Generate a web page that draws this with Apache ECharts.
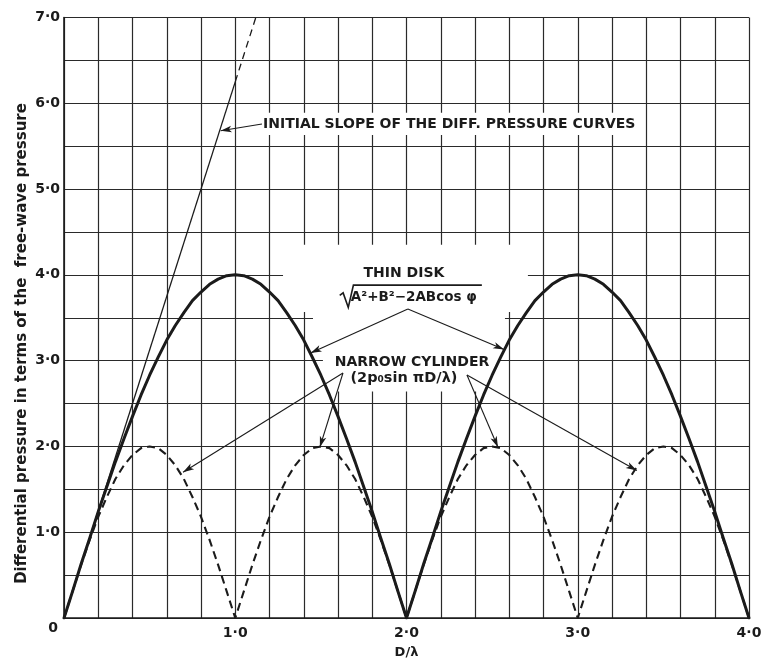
<!DOCTYPE html>
<html>
<head>
<meta charset="utf-8">
<style>
  html, body { margin: 0; padding: 0; background: #ffffff; }
  #chart { width: 767px; height: 659px; }
</style>
<script src="https://cdn.jsdelivr.net/npm/echarts@6/dist/echarts.min.js"></script>
</head>
<body>
<div id="chart"></div>
<script>
// D/lambda sample positions shared by both pressure curves
const dOverLambda = [
  0, 0.05, 0.1, 0.15, 0.2, 0.25, 0.3, 0.35, 0.4, 0.45, 0.5, 0.55, 0.6, 0.65, 0.7, 0.75, 0.8, 0.85, 0.9, 0.95,
  1.0, 1.05, 1.1, 1.15, 1.2, 1.25, 1.3, 1.35, 1.4, 1.45, 1.5, 1.55, 1.6, 1.65, 1.7, 1.75, 1.8, 1.85, 1.9, 1.95,
  2.0, 2.05, 2.1, 2.15, 2.2, 2.25, 2.3, 2.35, 2.4, 2.45, 2.5, 2.55, 2.6, 2.65, 2.7, 2.75, 2.8, 2.85, 2.9, 2.95,
  3.0, 3.05, 3.1, 3.15, 3.2, 3.25, 3.3, 3.35, 3.4, 3.45, 3.5, 3.55, 3.6, 3.65, 3.7, 3.75, 3.8, 3.85, 3.9, 3.95,
  4.0
];

// Thin disk differential pressure
const thinDisk = [
  0, 0.31, 0.63, 0.93, 1.24, 1.53, 1.82, 2.09, 2.35, 2.60, 2.83, 3.04, 3.24, 3.41, 3.56, 3.70, 3.80, 3.89, 3.95, 3.99,
  4.00, 3.99, 3.95, 3.89, 3.80, 3.70, 3.56, 3.41, 3.24, 3.04, 2.83, 2.60, 2.35, 2.09, 1.82, 1.53, 1.24, 0.93, 0.63, 0.31,
  0, 0.31, 0.63, 0.93, 1.24, 1.53, 1.82, 2.09, 2.35, 2.60, 2.83, 3.04, 3.24, 3.41, 3.56, 3.70, 3.80, 3.89, 3.95, 3.99,
  4.00, 3.99, 3.95, 3.89, 3.80, 3.70, 3.56, 3.41, 3.24, 3.04, 2.83, 2.60, 2.35, 2.09, 1.82, 1.53, 1.24, 0.93, 0.63, 0.31,
  0
];

// Narrow cylinder differential pressure
const narrowCylinder = [
  0, 0.31, 0.62, 0.91, 1.18, 1.41, 1.62, 1.78, 1.90, 1.98, 2.00, 1.98, 1.90, 1.78, 1.62, 1.41, 1.18, 0.91, 0.62, 0.31,
  0, 0.31, 0.62, 0.91, 1.18, 1.41, 1.62, 1.78, 1.90, 1.98, 2.00, 1.98, 1.90, 1.78, 1.62, 1.41, 1.18, 0.91, 0.62, 0.31,
  0, 0.31, 0.62, 0.91, 1.18, 1.41, 1.62, 1.78, 1.90, 1.98, 2.00, 1.98, 1.90, 1.78, 1.62, 1.41, 1.18, 0.91, 0.62, 0.31,
  0, 0.31, 0.62, 0.91, 1.18, 1.41, 1.62, 1.78, 1.90, 1.98, 2.00, 1.98, 1.90, 1.78, 1.62, 1.41, 1.18, 0.91, 0.62, 0.31,
  0
];

// Initial slope line (solid part, then dashed continuation to the top)
const slopeX = [0, 1.0];
const slopeY = [0, 6.25];
const slopeExtX = [1.0, 1.12];
const slopeExtY = [6.25, 7.0];

// Tick labels
const xTickValues = [1, 2, 3, 4];
const xTickLabels = ['1·0', '2·0', '3·0', '4·0'];
const yTickValues = [0, 1, 2, 3, 4, 5, 6, 7];
const yTickLabels = ['0', '1·0', '2·0', '3·0', '4·0', '5·0', '6·0', '7·0'];

const INK = '#1b1b1b';
const FONT = 'DejaVu Sans';

function pairs(xs, ys) { return xs.map((x, i) => [x, ys[i]]); }
function lookup(values, labels, v) {
  for (let i = 0; i < values.length; i++) {
    if (Math.abs(values[i] - v) < 1e-6) return labels[i];
  }
  return '';
}

// Leader arrows: [from, to] in data units
const arrows = [
  [[1.156, 5.758], [0.915, 5.68]],
  [[2.008, 3.601], [1.44, 3.09]],
  [[2.008, 3.601], [2.57, 3.13]],
  [[1.629, 2.856], [0.695, 1.70]],
  [[1.629, 2.856], [1.494, 1.99]],
  [[2.353, 2.832], [2.534, 1.99]],
  [[2.353, 2.832], [3.345, 1.72]]
];

const chart = echarts.init(document.getElementById('chart'), null, { renderer: 'canvas' });

const option = {
  animation: false,
  backgroundColor: '#ffffff',
  grid: { left: 64, right: 18, top: 17.5, bottom: 41, containLabel: false, outerBoundsMode: 'none' },
  xAxis: {
    type: 'value', min: 0, max: 4, interval: 0.2,
    axisLine: { show: true, onZero: false, lineStyle: { color: INK, width: 1.6 } },
    axisTick: { show: false },
    splitLine: { show: true, lineStyle: { color: '#2a2a2a', width: 1.2 } },
    axisLabel: {
      margin: 8, color: INK, fontFamily: FONT, fontWeight: 'bold', fontSize: 14,
      formatter: v => lookup(xTickValues, xTickLabels, v)
    },
    name: 'D/λ', nameLocation: 'middle', nameGap: 28,
    nameTextStyle: { color: INK, fontFamily: FONT, fontWeight: 'bold', fontSize: 13 }
  },
  yAxis: {
    type: 'value', min: 0, max: 7, interval: 0.5,
    axisLine: { show: true, onZero: false, lineStyle: { color: INK, width: 1.6 } },
    axisTick: { show: false },
    splitLine: { show: true, lineStyle: { color: '#2a2a2a', width: 1.2 } },
    axisLabel: {
      margin: 4, color: INK, fontFamily: FONT, fontWeight: 'bold', fontSize: 14,
      formatter: v => {
        const s = lookup(yTickValues, yTickLabels, v);
        if (v === 0) return '{z|' + s + '}';
        return s;
      },
      rich: { z: { fontFamily: FONT, fontWeight: 'bold', fontSize: 14, color: INK, padding: [20, 2, 0, 0] } }
    }
  },
  series: [
    {
      name: 'Thin disk', type: 'line', data: pairs(dOverLambda, thinDisk),
      showSymbol: false, symbol: 'none', silent: true, z: 4,
      lineStyle: { color: INK, width: 3, cap: 'round', join: 'round' }
    },
    {
      name: 'Narrow cylinder', type: 'line', data: pairs(dOverLambda, narrowCylinder),
      showSymbol: false, symbol: 'none', silent: true, z: 3,
      lineStyle: { color: INK, width: 2.1, type: [8, 5] }
    },
    {
      name: 'Initial slope', type: 'line', data: pairs(slopeX, slopeY),
      showSymbol: false, symbol: 'none', silent: true, z: 3,
      lineStyle: { color: INK, width: 1.3 },
      markLine: {
        silent: true, animation: false,
        symbol: ['none', 'arrow'], symbolSize: [5, 11],
        label: { show: false },
        lineStyle: { color: INK, width: 1.1, type: 'solid' },
        emphasis: { disabled: true },
        data: arrows.map(a => [{ coord: a[0] }, { coord: a[1] }])
      }
    },
    {
      name: 'Initial slope (extended)', type: 'line', data: pairs(slopeExtX, slopeExtY),
      showSymbol: false, symbol: 'none', silent: true, z: 3,
      lineStyle: { color: INK, width: 1.3, type: [7, 5] }
    }
  ]
};

chart.setOption(option);

function at(x, y) { return chart.convertToPixel({ gridIndex: 0 }, [x, y]); }
function patch(x1, y1, x2, y2) {
  const a = at(x1, y2), b = at(x2, y1);
  return { type: 'rect', z: 1, silent: true,
    shape: { x: a[0], y: a[1], width: b[0] - a[0], height: b[1] - a[1] },
    style: { fill: '#ffffff' } };
}
function label(x, y, text, size, align) {
  const p = at(x, y);
  return { type: 'text', z: 10, silent: true, x: p[0], y: p[1],
    style: { text: text, fill: INK, font: 'bold ' + size + 'px "' + FONT + '"',
      textAlign: align || 'center', textVerticalAlign: 'middle' } };
}

const radical = [[1.61, 3.76], [1.63, 3.79], [1.66, 3.62], [1.69, 3.88], [2.44, 3.88]].map(p => at(p[0], p[1]));
const axisTitle = at(0, 3.2);

chart.setOption({
  graphic: [
    // cleared backgrounds behind the annotation labels
    patch(1.13, 5.63, 3.37, 5.89),
    patch(1.279, 3.567, 2.709, 4.35),
    patch(1.454, 3.182, 2.575, 3.567),
    patch(1.512, 2.64, 2.546, 3.182),
    label(1.162, 5.758, 'INITIAL SLOPE OF THE DIFF. PRESSURE CURVES', 14, 'left'),
    label(1.985, 4.02, 'THIN DISK', 14),
    label(1.675, 3.74, 'A²+B²−2ABcos φ', 13.5, 'left'),
    { type: 'polyline', z: 10, silent: true, shape: { points: radical },
      style: { stroke: INK, lineWidth: 1.6, fill: null } },
    label(2.032, 2.984, 'NARROW CYLINDER', 14),
    label(1.985, 2.80, '(2p₀sin πD/λ)', 14.5),
    { type: 'text', z: 10, silent: true, x: axisTitle[0] - 42, y: axisTitle[1], rotation: Math.PI / 2,
      style: { text: 'Differential pressure in terms of the  free-wave pressure', fill: INK,
        font: 'bold 15px "' + FONT + '"', textAlign: 'center', textVerticalAlign: 'middle' } }
  ]
});
</script>
</body>
</html>
